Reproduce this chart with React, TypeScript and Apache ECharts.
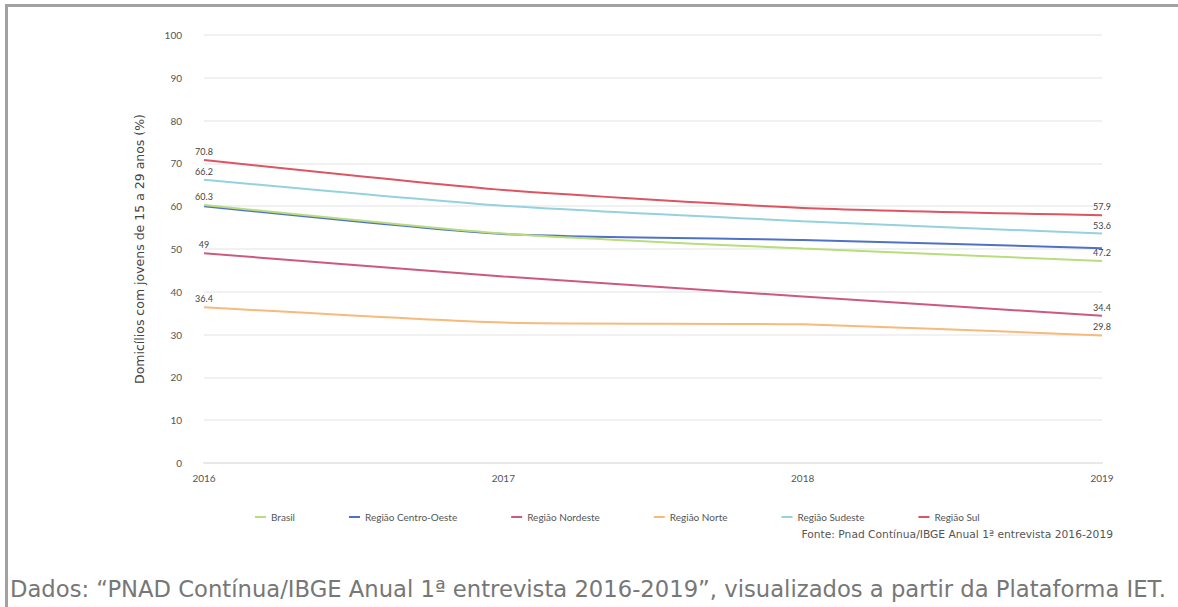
import React, { useEffect, useRef } from "react";
import * as echarts from "echarts";

// Anos da série
const years = ["2016", "2017", "2018", "2019"];

// Domicílios com jovens de 15 a 29 anos (%)
const brasil = [60.3, 53.6, 50.1, 47.2];
const centroOeste = [60.0, 53.5, 52.1, 50.2];
const nordeste = [49, 43.6, 38.9, 34.4];
const norte = [36.4, 32.8, 32.4, 29.8];
const sudeste = [66.2, 60.1, 56.5, 53.6];
const sul = [70.8, 63.8, 59.6, 57.9];

const seriesNames = [
  "Brasil",
  "Região Centro-Oeste",
  "Região Nordeste",
  "Região Norte",
  "Região Sudeste",
  "Região Sul",
];
const seriesValues = [brasil, centroOeste, nordeste, norte, sudeste, sul];
const seriesColors = ["#b9dc7c", "#5072c6", "#cc5a7e", "#f6ba7a", "#93d2de", "#dd5462"];
const seriesShowsEnds = [true, false, true, true, true, true];

const yTicks = { min: 0, max: 100, interval: 10 };

const FONT = "Lato, 'Open Sans', sans-serif";
const WIDE = "'DejaVu Sans', 'Open Sans', sans-serif";

export default function App() {
  const ref = useRef<HTMLDivElement>(null);

  useEffect(() => {
    document.body.style.margin = "0";
    if (!ref.current) return;
    const chart = echarts.init(ref.current, undefined, { renderer: "svg" });

    const series = seriesNames.map((name, i) => {
      const values = seriesValues[i];
      const last = values.length - 1;
      return {
        name,
        type: "line",
        data: values,
        smooth: 0.2,
        showSymbol: true,
        symbol: "circle",
        symbolSize: 0.1,
        z: i === 0 ? 5 : 3,
        lineStyle: { color: seriesColors[i], width: 2 },
        itemStyle: { color: seriesColors[i] },
        label: {
          show: seriesShowsEnds[i],
          position: "top",
          distance: 4,
          fontSize: 9,
          fontFamily: FONT,
          color: "#444",
          formatter: (p: any) =>
            p.dataIndex === 0 || p.dataIndex === last ? String(p.value) : "",
        },
      };
    });

    chart.setOption({
      animation: false,
      backgroundColor: "#ffffff",
      textStyle: { fontFamily: FONT },
      grid: { left: 204, right: 76, top: 35, bottom: 144 },
      legend: {
        data: seriesNames,
        left: 250,
        top: 507,
        itemGap: 54,
        itemWidth: 11,
        itemHeight: 2,
        icon: "rect",
        textStyle: { fontSize: 10, color: "#555", fontFamily: FONT },
      },
      xAxis: {
        type: "category",
        data: years,
        boundaryGap: false,
        axisLine: { show: true, lineStyle: { color: "#e8e8e8", width: 2 } },
        axisTick: { show: false },
        axisLabel: { fontSize: 10, color: "#555", margin: 10, fontFamily: FONT },
      },
      yAxis: {
        type: "value",
        min: yTicks.min,
        max: yTicks.max,
        interval: yTicks.interval,
        name: "Domicílios com jovens de 15 a 29 anos (%)",
        nameLocation: "middle",
        nameGap: 58,
        nameTextStyle: { fontSize: 12.5, color: "#444", fontFamily: WIDE },
        axisLine: { show: false },
        axisTick: { show: false },
        axisLabel: { fontSize: 10, color: "#555", margin: 22, fontFamily: FONT },
        splitLine: { lineStyle: { color: "#f1f1f1", width: 2 } },
      },
      graphic: [
        {
          type: "rect",
          left: 6,
          top: 4,
          shape: { width: 1172, height: 3 },
          style: { fill: "#a2a2a2" },
          silent: true,
        },
        {
          type: "rect",
          left: 5,
          top: 4,
          shape: { width: 3, height: 603 },
          style: { fill: "#a2a2a2" },
          silent: true,
        },
        {
          type: "text",
          right: 65,
          top: 529,
          style: {
            text: "Fonte: Pnad Contínua/IBGE Anual 1ª entrevista 2016-2019",
            fontSize: 10.7,
            fill: "#555",
            fontFamily: WIDE,
          },
        },
        {
          type: "text",
          left: 10,
          top: 577,
          style: {
            text:
              "Dados: “PNAD Contínua/IBGE Anual 1ª entrevista 2016-2019”, visualizados a partir da Plataforma IET.",
            fontSize: 22.7,
            fill: "#777",
            fontFamily: WIDE,
          },
        },
      ],
      series,
    });

    return () => chart.dispose();
  }, []);

  return (
    <div
      ref={ref}
      style={{ position: "absolute", left: 0, top: 0, width: 1178, height: 607 }}
    />
  );
}
